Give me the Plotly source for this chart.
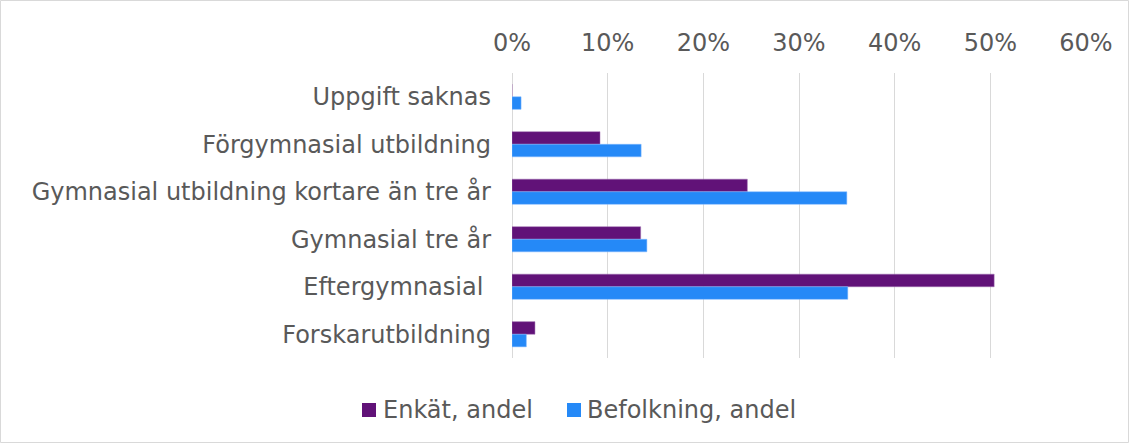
import plotly.graph_objects as go

categories = ["Uppgift saknas", "Förgymnasial utbildning", "Gymnasial utbildning kortare än tre år",
              "Gymnasial tre år", "Eftergymnasial ", "Forskarutbildning"]
enkat = [0.0, 9.2, 24.6, 13.45, 50.4, 2.4]
befolkning = [0.95, 13.5, 35.0, 14.1, 35.1, 1.5]
series_names = ["Enkät, andel", "Befolkning, andel"]
series_colors = ["#611278", "#2589F7"]
tick_vals = [0, 10, 20, 30, 40, 50, 60]
tick_text = ["0%", "10%", "20%", "30%", "40%", "50%", "60%"]

W, H = 1129, 443
L, R, T, B = 512, 43, 73, 85
pw, ph = W - L - R, H - T - B

font_family = "DejaVu Sans, Verdana, sans-serif"
txt_color = "#595959"
FS = 24

fig = go.Figure()
fig.add_trace(go.Bar(y=categories, x=enkat, orientation="h", name=series_names[0],
                     marker=dict(color=series_colors[0], line=dict(color="#a070b0", width=0.5))))
fig.add_trace(go.Bar(y=categories, x=befolkning, orientation="h", name=series_names[1],
                     marker=dict(color=series_colors[1], line=dict(color="#80b8ff", width=0.5))))


def px_x(p):
    return (p - L) / pw


def px_y(p):
    return 1 - (p - T) / ph


# legend drawn in pixel positions (below the plot, centred on the chart)
legend_sq_x = [362, 567]
legend_txt_x = [381, 585]
legend_yc = 410
shapes = [dict(type="rect", xref="paper", yref="paper",
               x0=px_x(0.5), x1=px_x(W - 0.5), y0=px_y(H - 0.5), y1=px_y(0.5),
               line=dict(color="#d9d9d9", width=1), fillcolor="rgba(0,0,0,0)", layer="below")]
annotations = []
for sx, tx, nm, col in zip(legend_sq_x, legend_txt_x, series_names, series_colors):
    shapes.append(dict(type="rect", xref="paper", yref="paper",
                       x0=px_x(sx), x1=px_x(sx + 14), y0=px_y(legend_yc + 7), y1=px_y(legend_yc - 7),
                       line=dict(width=0), fillcolor=col))
    annotations.append(dict(xref="paper", yref="paper", x=px_x(tx), y=px_y(legend_yc),
                            xanchor="left", yanchor="middle", text=nm, showarrow=False,
                            font=dict(size=FS, color=txt_color, family=font_family)))

fig.update_layout(
    width=W, height=H,
    margin=dict(l=L, r=R, t=T, b=B),
    paper_bgcolor="white", plot_bgcolor="white",
    barmode="group", bargap=0.47, bargroupgap=0,
    font=dict(family=font_family, size=FS, color=txt_color),
    showlegend=False,
    xaxis=dict(side="top", range=[0, 60], tickvals=tick_vals, ticktext=tick_text,
               showgrid=True, gridcolor="#d9d9d9", gridwidth=1, zeroline=True,
               zerolinecolor="#d9d9d9", zerolinewidth=1, showline=False, ticks="",
               ticklabelstandoff=16, fixedrange=True),
    yaxis=dict(autorange="reversed", showgrid=False, zeroline=False, showline=False,
               ticks="", ticklabelstandoff=20),
    shapes=shapes,
    annotations=annotations,
)

fig.write_html("out.html", config={"displayModeBar": False},
               post_script="document.body.style.margin='0';document.body.style.padding='0';")
